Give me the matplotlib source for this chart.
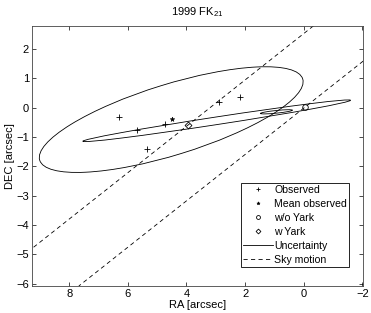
import numpy as np
import matplotlib
matplotlib.use("Agg")
import matplotlib.pyplot as plt
from matplotlib.patches import Ellipse

plt.rcParams['font.family'] = ['Liberation Sans', 'DejaVu Sans']
plt.rcParams['font.size'] = 8
plt.rcParams['axes.unicode_minus'] = True
plt.rcParams['mathtext.fontset'] = 'custom'
plt.rcParams['mathtext.rm'] = 'Liberation Sans'
plt.rcParams['mathtext.it'] = 'Liberation Sans:italic'

# observed positions (RA, DEC) in arcsec
obs_ra = [6.31, 5.68, 4.73, 5.36, 2.88, 2.18]
obs_dec = [-0.31, -0.77, -0.55, -1.42, 0.19, 0.37]

mean_ra = [4.51]
mean_dec = [-0.40]

woyark_ra = [-0.05]
woyark_dec = [0.02]

wyark_ra = [3.95]
wyark_dec = [-0.60]

# uncertainty ellipses: centre, full width, full height, angle (deg)
ell_cx = [4.52, 2.97, 0.93]
ell_cy = [-0.41, -0.45, -0.145]
ell_w = [9.39, 9.24, 1.10]
ell_h = [2.41, 0.26, 0.09]
ell_ang = [162.85, 171.3, 174.2]

# sky motion lines: anchor points and slope (dDEC/dRA)
sky_ra = [3.95, -0.05]
sky_dec = [-0.60, 0.02]
sky_slope = -0.79

x_ticks = [8, 6, 4, 2, 0, -2]
y_ticks = [2, 1, 0, -1, -2, -3, -4, -5, -6]

fig = plt.figure(figsize=(3.71, 3.13), dpi=100)
ax = fig.add_axes([0.0854, 0.0863, 0.8936, 0.8307])

lw = 0.6
ax.plot(obs_ra, obs_dec, '+', color='k', ms=4.5, mew=0.6, label='Observed')
ax.plot(mean_ra, mean_dec, '*', color='k', ms=3.5, mew=0.4, label='Mean observed')
ax.plot(woyark_ra, woyark_dec, 'o', color='k', mfc='none', ms=4, mew=0.6, label='w/o Yark')
ax.plot(wyark_ra, wyark_dec, 'D', color='k', mfc='none', ms=3.5, mew=0.6, label='w Yark')

for cx, cy, w, h, a in zip(ell_cx, ell_cy, ell_w, ell_h, ell_ang):
    ax.add_patch(Ellipse((cx, cy), w, h, angle=a, fill=False, ec='k', lw=lw))
ax.plot([], [], '-', color='k', lw=lw, label='Uncertainty')

for i, (x0, y0) in enumerate(zip(sky_ra, sky_dec)):
    ax.axline((x0, y0), slope=sky_slope, color='k', lw=lw, ls=(0, (5, 4)),
              label='Sky motion' if i == 0 else None)

ax.set_xlim(9.28, -2.03)
ax.set_ylim(-6.08, 2.78)
ax.set_xticks(x_ticks)
ax.set_yticks(y_ticks)
ax.tick_params(direction='in', top=True, right=True, length=3, width=0.5, labelsize=8, pad=2)
for s in ax.spines.values():
    s.set_linewidth(0.6)
    s.set_color('#444444')

ax.set_xlabel('RA [arcsec]', labelpad=1)
ax.set_ylabel('DEC [arcsec]', labelpad=1)
ax.set_title('1999 FK$_{21}$', fontsize=8, pad=8)

leg = ax.legend(loc='lower right', bbox_to_anchor=(0.957, 0.072), fancybox=False,
                framealpha=1, edgecolor='k', fontsize=7.6, handlelength=2.8,
                handletextpad=0.15, borderpad=0.2, labelspacing=0.38, borderaxespad=0,
                markerscale=0.7)
leg.get_frame().set_linewidth(0.6)

fig.savefig('out.png', dpi=100)
